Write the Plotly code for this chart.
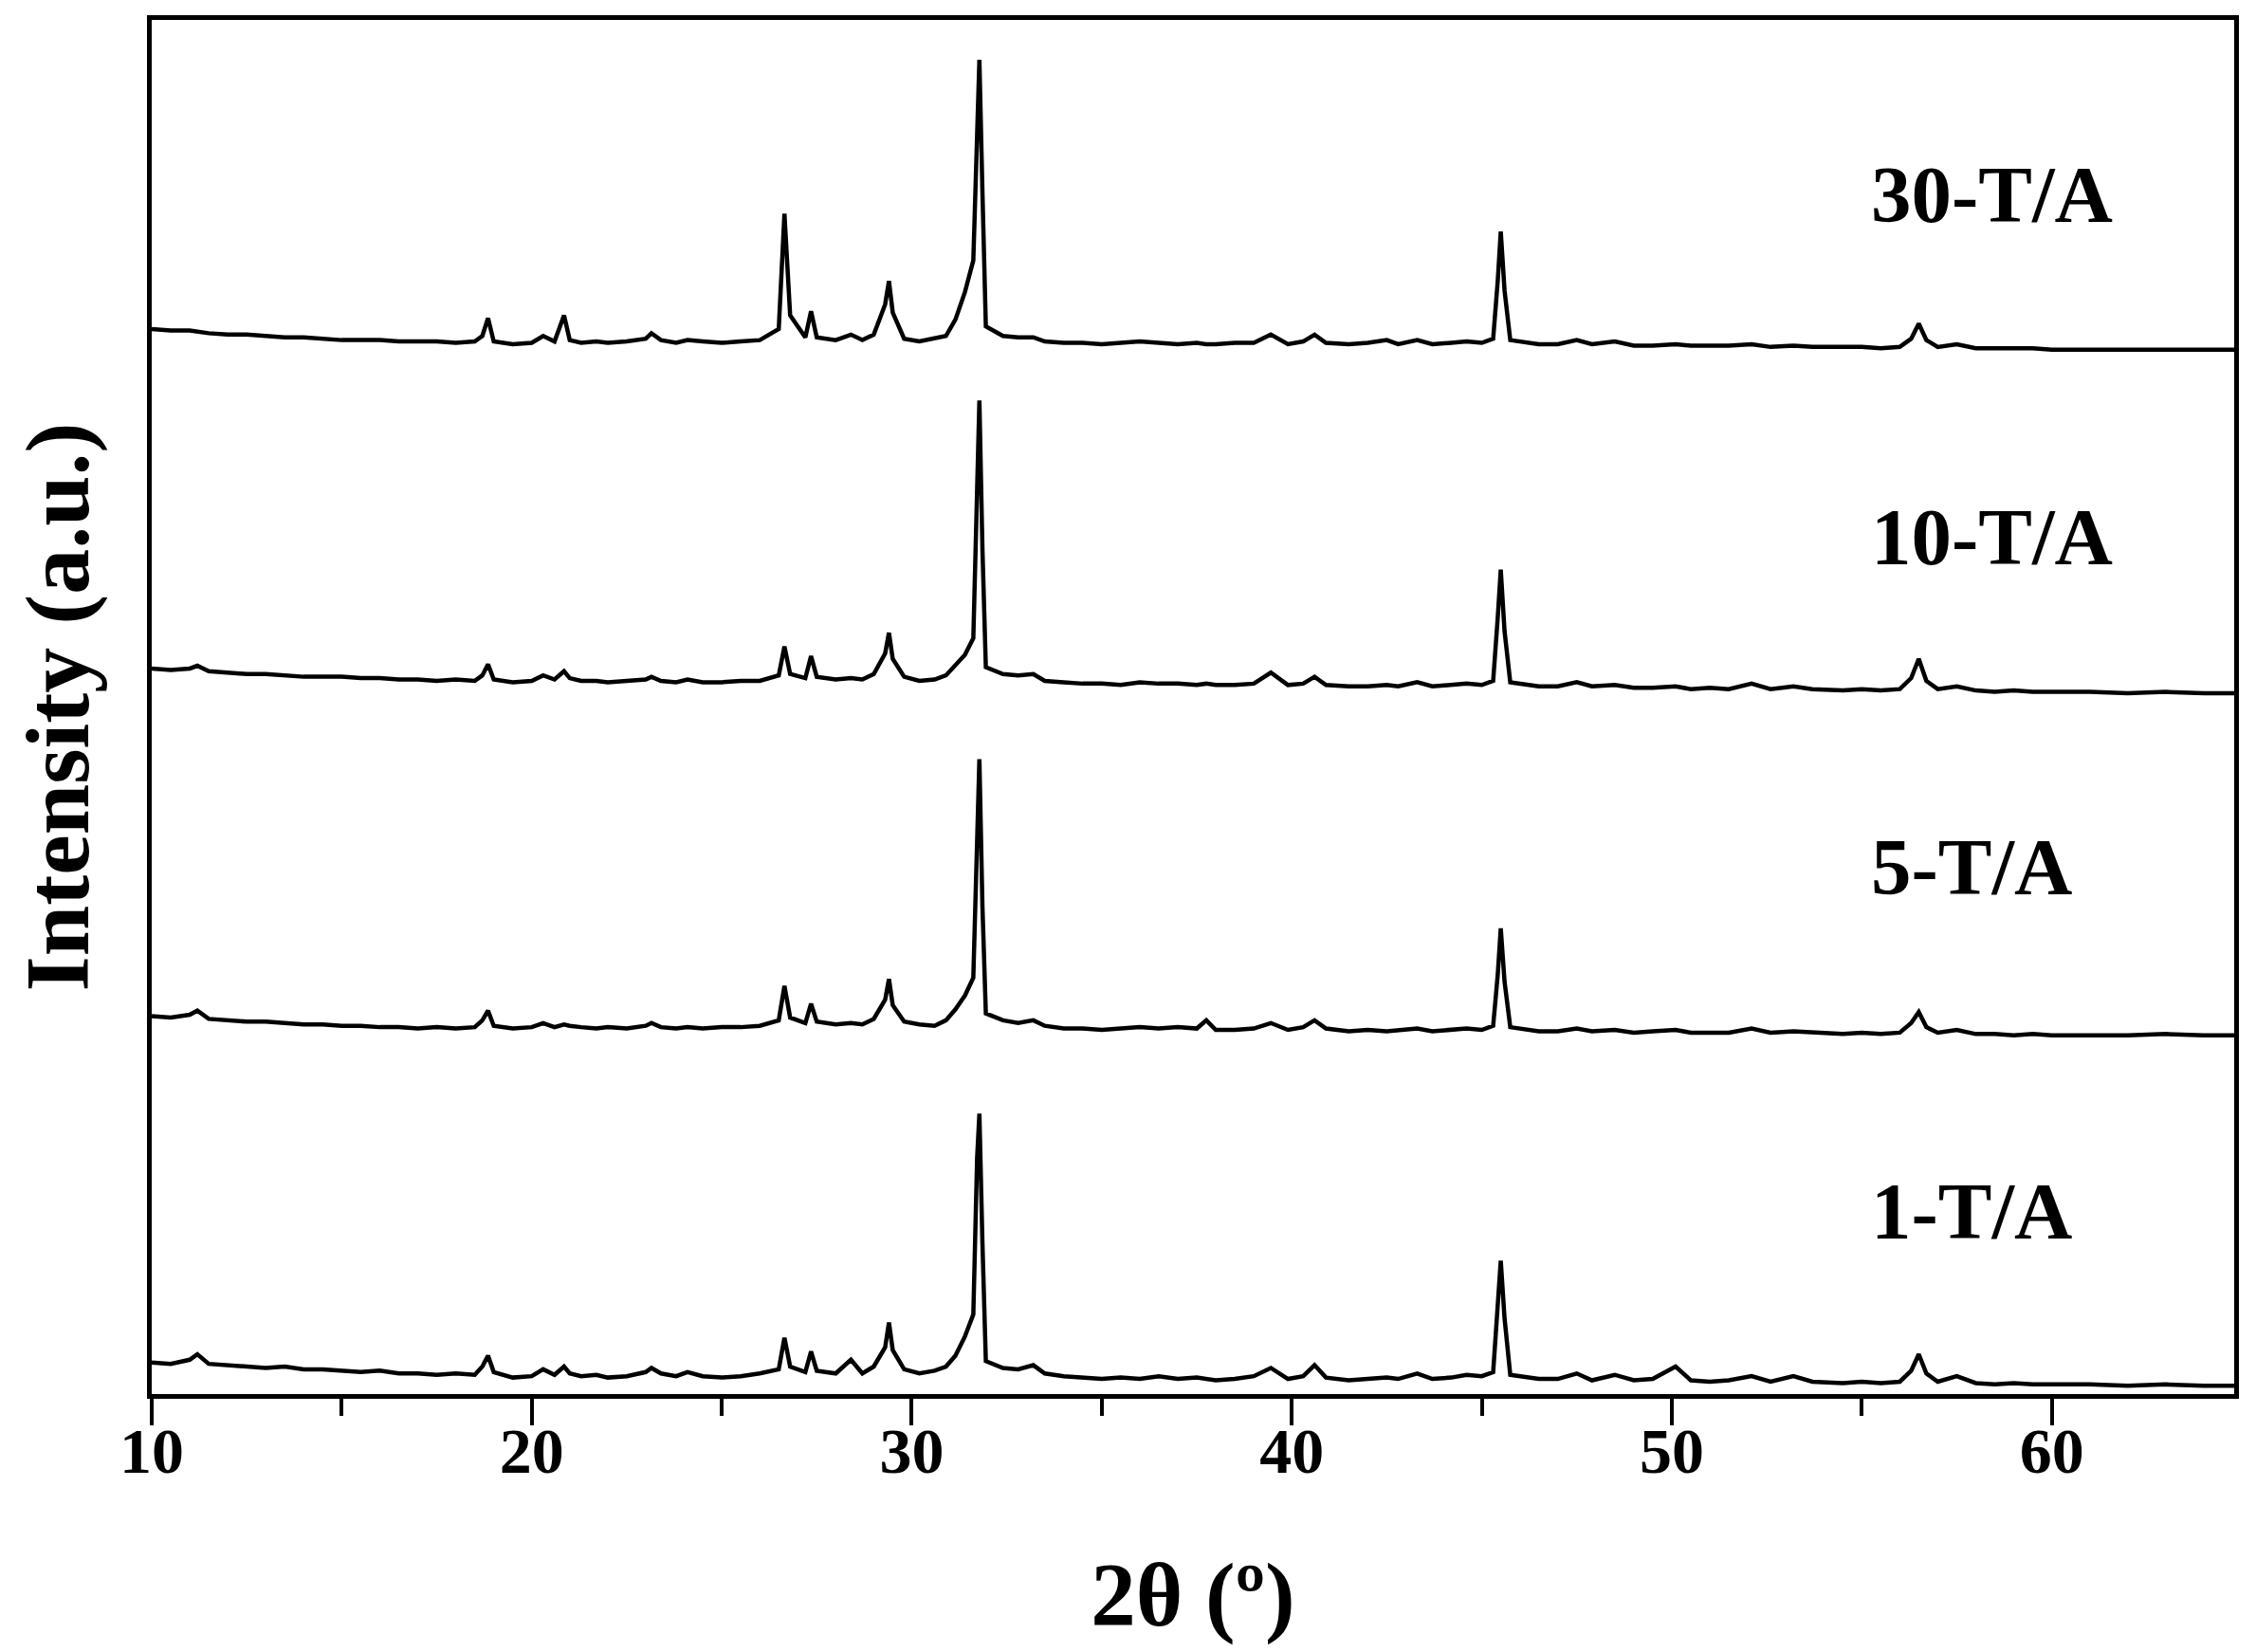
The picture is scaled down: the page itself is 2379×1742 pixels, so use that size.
import plotly.graph_objects as go

# 2-theta grid (degrees)
two_theta = [
    10.0, 10.5, 11.0, 11.2, 11.5, 12.0, 12.5, 13.0, 13.5, 14.0,
    14.5, 15.0, 15.5, 16.0, 16.5, 17.0, 17.5, 18.0, 18.5, 18.7,
    18.85, 19.0, 19.5, 20.0, 20.3, 20.6, 20.85, 21.0, 21.3, 21.7,
    22.0, 22.5, 23.0, 23.15, 23.4, 23.8, 24.1, 24.5, 25.0, 25.5,
    26.0, 26.5, 26.65, 26.8, 27.2, 27.35, 27.5, 28.0, 28.4, 28.7,
    29.0, 29.3, 29.4, 29.5, 29.8, 30.2, 30.6, 30.9, 31.15, 31.4,
    31.62, 31.72, 31.78, 31.86, 31.95, 32.4, 32.8, 33.2, 33.5, 34.0,
    34.5, 35.0, 35.5, 36.0, 36.5, 37.0, 37.5, 37.75, 38.0, 38.5,
    39.0, 39.45, 39.9, 40.3, 40.6, 40.9, 41.5, 42.0, 42.5, 42.8,
    43.3, 43.7, 44.2, 44.6, 45.0, 45.3, 45.42, 45.5, 45.6, 45.75, 46.5,
    47.0, 47.5, 47.9, 48.5, 49.0, 49.5, 50.1, 50.5, 51.0, 51.5,
    52.1, 52.6, 53.2, 53.7, 54.5, 55.0, 55.5, 56.0, 56.3, 56.5,
    56.7, 57.0, 57.5, 58.0, 58.5, 59.0, 59.5, 60.0, 61.0, 62.0,
    63.0, 64.0, 65.0,
]

int_1TA = [
    23, 22, 25, 29, 22, 21, 20, 19, 20, 18,
    18, 17, 16, 17, 15, 15, 14, 15, 14, 20,
    28, 16, 12, 13, 18, 14, 20, 15, 13, 14,
    12, 13, 16, 19, 15, 13, 16, 13, 12, 13,
    15, 18, 41, 20, 16, 31, 17, 15, 25, 15,
    20, 34, 52, 32, 18, 15, 17, 20, 28, 42,
    58, 172, 204, 110, 24, 19, 18, 21, 15, 13,
    12, 11, 12, 11, 13, 11, 12, 11, 10, 11,
    13, 19, 11, 13, 21, 12, 10, 11, 12, 11,
    15, 11, 12, 14, 13, 16, 60, 97, 55, 14, 11,
    11, 15, 10, 14, 10, 11, 20, 10, 9, 10,
    13, 9, 13, 9, 8, 9, 8, 9, 17, 29,
    15, 9, 13, 8, 7, 8, 7, 7, 7, 6,
    7, 6, 6,
]

int_5TA = [
    20, 19, 21, 24, 18, 17, 16, 16, 15, 14,
    14, 13, 13, 12, 12, 11, 12, 11, 12, 17,
    24, 13, 11, 12, 15, 12, 14, 13, 12, 11,
    12, 11, 13, 15, 12, 11, 12, 11, 12, 12,
    13, 17, 42, 19, 15, 29, 16, 14, 15, 14,
    18, 32, 47, 28, 16, 14, 13, 17, 25, 35,
    48, 168, 207, 100, 22, 17, 15, 17, 13, 11,
    11, 10, 11, 12, 11, 12, 11, 17, 10, 10,
    11, 15, 10, 12, 17, 11, 9, 10, 9, 10,
    11, 9, 10, 11, 10, 13, 50, 84, 45, 12, 9,
    9, 11, 9, 10, 8, 9, 10, 8, 8, 8,
    11, 8, 9, 8, 7, 8, 7, 8, 15, 23,
    12, 8, 10, 7, 7, 6, 7, 6, 6, 6,
    7, 6, 6,
]

int_10TA = [
    23, 22, 23, 25, 21, 20, 19, 19, 18, 17,
    17, 17, 16, 16, 15, 15, 14, 15, 14, 18,
    26, 15, 13, 14, 18, 15, 21, 16, 14, 14,
    13, 14, 15, 17, 14, 13, 15, 13, 13, 14,
    14, 18, 39, 19, 16, 32, 17, 15, 16, 15,
    19, 34, 49, 30, 17, 14, 15, 18, 25, 33,
    45, 172, 218, 110, 24, 19, 18, 19, 14, 13,
    12, 12, 11, 13, 12, 12, 11, 12, 11, 11,
    12, 20, 11, 12, 17, 11, 10, 10, 11, 10,
    13, 10, 11, 12, 11, 14, 60, 95, 50, 13, 10,
    10, 13, 10, 11, 9, 9, 10, 8, 9, 8,
    12, 8, 10, 8, 7, 8, 7, 8, 16, 30,
    14, 8, 10, 7, 6, 7, 6, 6, 6, 5,
    6, 5, 5,
]

int_30TA = [
    20, 19, 19, 18, 17, 16, 16, 15, 14, 14,
    13, 12, 12, 12, 11, 11, 11, 10, 11, 15,
    28, 11, 9, 10, 15, 11, 30, 12, 10, 11,
    10, 11, 13, 17, 12, 10, 12, 11, 10, 11,
    12, 20, 104, 30, 14, 33, 14, 12, 16, 12,
    16, 38, 55, 32, 13, 11, 13, 15, 27, 47,
    70, 178, 216, 120, 22, 15, 14, 14, 11, 10,
    10, 9, 10, 11, 10, 9, 10, 9, 9, 10,
    10, 16, 9, 11, 16, 10, 9, 10, 12, 9,
    12, 9, 10, 11, 10, 13, 55, 91, 48, 12, 9,
    9, 12, 9, 11, 8, 8, 9, 8, 8, 8,
    9, 7, 8, 7, 7, 7, 6, 7, 13, 24,
    12, 7, 9, 6, 6, 6, 6, 5, 5, 5,
    5, 5, 5,
]

sample_names = ["1-T/A", "5-T/A", "10-T/A", "30-T/A"]
series = [int_1TA, int_5TA, int_10TA, int_30TA]
offsets = [0, 255, 505, 755]
label_y = [133, 384, 624, 873]
label_x = 55.2

FONT = "Liberation Serif, Times New Roman, serif"

fig = go.Figure()
for name, vals, off in zip(sample_names, series, offsets):
    fig.add_trace(go.Scatter(
        x=two_theta, y=[v + off for v in vals], mode="lines", name=name,
        line=dict(color="black", width=4.5), showlegend=False,
    ))

for name, ly in zip(sample_names, label_y):
    fig.add_annotation(
        x=label_x, y=ly, xref="x", yref="y", text="<b>%s</b>" % name,
        showarrow=False, xanchor="left", yanchor="middle",
        font=dict(family=FONT, size=85, color="black"),
    )

# y-axis title as rotated annotation (no tick labels on the y axis)
fig.add_annotation(
    x=0, y=0.5, xref="paper", yref="paper", xshift=-100,
    text="<b>Intensity (a.u.)</b>", textangle=-90, showarrow=False,
    xanchor="center", yanchor="middle", borderpad=0,
    font=dict(family=FONT, size=96, color="black"),
)

fig.update_layout(
    width=2379, height=1742,
    margin=dict(l=152, r=31, t=8, b=280),
    paper_bgcolor="white", plot_bgcolor="white",
    font=dict(family=FONT, color="black"),
)
fig.update_xaxes(
    range=[10, 64.8], showgrid=False, zeroline=False,
    showline=True, linecolor="black", linewidth=5, mirror=True,
    ticks="outside", ticklen=28, tickwidth=4, tickcolor="black",
    tick0=10, dtick=10, tickprefix="<b>", ticksuffix="</b>",
    ticklabelstandoff=-32,
    tickfont=dict(family=FONT, size=68, color="black"),
    minor=dict(ticks="outside", ticklen=18, tickwidth=4, tickcolor="black", dtick=5, tick0=10),
    title=dict(text="<b>2θ (º)</b>", font=dict(family=FONT, size=95, color="black"), standoff=82),
)
fig.update_yaxes(
    range=[0, 1000], showgrid=False, zeroline=False,
    showline=True, linecolor="black", linewidth=5, mirror=True,
    showticklabels=False, ticks="",
)

fig.write_html("out.html")
